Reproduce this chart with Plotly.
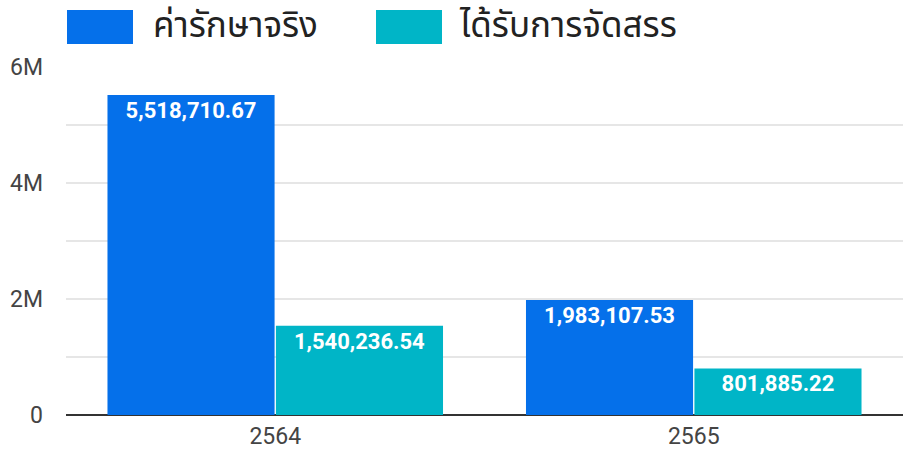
import plotly.graph_objects as go

categories = ["2564", "2565"]
series_names = ["ค่ารักษาจริง", "ได้รับการจัดสรร"]
actual_values = [5518710.67, 1983107.53]
allocated_values = [1540236.54, 801885.22]
colors = ["#0570ea", "#00b5c7"]
y_tickvals = [0, 2000000, 4000000, 6000000]
y_ticktext = ["0", "2M", "4M", "6M"]

W, H = 903, 456
ML, MR, MT, MB = 66, 0, 67, 41
PW, PH = W - ML - MR, H - MT - MB

fig = go.Figure()
for name, vals, col in zip(series_names, [actual_values, allocated_values], colors):
    fig.add_trace(go.Bar(
        x=categories, y=vals, name=name,
        marker=dict(color=col, line=dict(width=0)),
        texttemplate="%{y:,.2f}",
        textposition="inside", insidetextanchor="end",
        textangle=0, constraintext="none",
        insidetextfont=dict(family="Roboto, sans-serif", size=22, color="white", weight="bold"),
        showlegend=False,
    ))

fig.update_layout(
    width=W, height=H,
    margin=dict(l=ML, r=MR, t=MT, b=MB),
    paper_bgcolor="white", plot_bgcolor="white",
    barmode="group", bargap=0.195, bargroupgap=0.008,
    font=dict(family="Roboto, sans-serif", color="#444"),
    xaxis=dict(type="category", showgrid=False, ticks="", tickfont=dict(size=23, color="#444"),
               showline=False, ticklabelstandoff=5),
    yaxis=dict(range=[0, 6000000], tickvals=y_tickvals, ticktext=y_ticktext,
               showgrid=True, gridcolor="#e6e6e6", gridwidth=2,
               minor=dict(dtick=1000000, tick0=0, showgrid=True, gridcolor="#e6e6e6", gridwidth=2),
               zeroline=True, zerolinecolor="#333", zerolinewidth=2,
               tickfont=dict(size=23, color="#444"), ticklabelstandoff=22),
)

# manual legend with large swatches
legend_items = [(series_names[0], colors[0], 67, 133, 151), (series_names[1], colors[1], 376, 442, 457)]
for name, col, x0, x1, tx in legend_items:
    fig.add_shape(type="rect", xref="paper", yref="paper",
                  x0=(x0 - ML) / PW, x1=(x1 - ML) / PW,
                  y0=(H - MB - 44) / PH, y1=(H - MB - 10) / PH,
                  fillcolor=col, line=dict(width=0), layer="above")
    fig.add_annotation(xref="paper", yref="paper",
                       x=(tx - ML) / PW, y=(H - MB - 27) / PH,
                       xanchor="left", yanchor="middle", showarrow=False,
                       text=name, font=dict(size=35, color="#222", family="Noto Sans Thai, Noto Sans, sans-serif"))

fig.write_html("out.html", config={"displayModeBar": False},
               post_script="document.body.style.margin='0';document.body.style.overflow='hidden';"
                           "document.documentElement.style.overflow='hidden';")
